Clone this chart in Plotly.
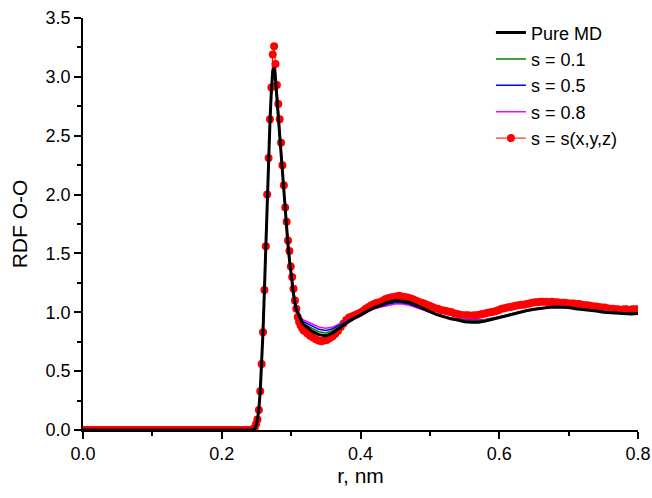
import numpy as np
import plotly.graph_objects as go

# r grids in nm: 0.002 bins across the first peak, coarser after it
r_peak = np.round(0.2435 + 0.002 * np.arange(39), 4)
r_tail = np.round(0.33 + 0.01 * np.arange(48), 2)
r_tail_sxyz = np.round(0.3235 + 0.004 * np.arange(120), 4)

# g(r) on r_peak
pure_md_peak = [0.00, 0.00, 0.01, 0.04, 0.09, 0.18, 0.33, 0.56, 0.84, 1.19,
                1.56, 1.97, 2.31, 2.62, 2.88, 3.05, 3.08, 2.98, 2.82, 2.66,
                2.50, 2.33, 2.16, 2.00, 1.84, 1.70, 1.57, 1.45, 1.34, 1.24,
                1.15, 1.08, 1.02, 1.00, 0.97, 0.94, 0.92, 0.90, 0.89]
s01_peak = [0.00, 0.00, 0.01, 0.04, 0.09, 0.18, 0.33, 0.56, 0.84, 1.19,
            1.56, 1.97, 2.31, 2.62, 2.87, 3.03, 3.06, 2.97, 2.82, 2.66,
            2.50, 2.33, 2.16, 2.00, 1.84, 1.70, 1.57, 1.45, 1.34, 1.24,
            1.15, 1.08, 1.02, 0.98, 0.95, 0.93, 0.915, 0.905, 0.90]
s05_peak = [0.00, 0.00, 0.01, 0.04, 0.09, 0.18, 0.33, 0.56, 0.84, 1.19,
            1.56, 1.97, 2.31, 2.62, 2.86, 3.01, 3.04, 2.96, 2.82, 2.66,
            2.50, 2.33, 2.16, 2.00, 1.84, 1.70, 1.57, 1.45, 1.34, 1.24,
            1.15, 1.09, 1.03, 0.99, 0.96, 0.94, 0.93, 0.92, 0.915]
s08_peak = [0.00, 0.00, 0.01, 0.04, 0.09, 0.18, 0.33, 0.56, 0.84, 1.19,
            1.56, 1.97, 2.31, 2.62, 2.85, 2.99, 3.02, 2.95, 2.82, 2.66,
            2.50, 2.33, 2.16, 2.00, 1.84, 1.70, 1.57, 1.45, 1.34, 1.24,
            1.16, 1.10, 1.04, 1.00, 0.97, 0.955, 0.945, 0.935, 0.93]
sxyz_peak = [0.00, 0.01, 0.02, 0.05, 0.09, 0.17, 0.33, 0.56, 0.83, 1.19,
             1.56, 2.00, 2.31, 2.64, 2.91, 3.19, 3.26, 3.11, 2.93, 2.77,
             2.64, 2.44, 2.25, 2.08, 1.89, 1.77, 1.61, 1.52, 1.39, 1.30,
             1.20, 1.10, 1.03, 0.96, 0.92, 0.89, 0.87, 0.85, 0.84]

# g(r) on r_tail
pure_md_tail = [0.84, 0.81, 0.80, 0.825, 0.87, 0.91, 0.945, 0.98, 1.01, 1.04,
                1.065, 1.085, 1.10, 1.095, 1.085, 1.06, 1.03, 1.005, 0.98, 0.96,
                0.945, 0.935, 0.92, 0.915, 0.915, 0.925, 0.94, 0.955, 0.97, 0.99,
                1.00, 1.015, 1.025, 1.035, 1.04, 1.045, 1.045, 1.04, 1.03, 1.025,
                1.015, 1.01, 1.00, 0.995, 0.99, 0.99, 0.985, 0.99]
s01_tail = [0.865, 0.835, 0.825, 0.845, 0.885, 0.92, 0.955, 0.985, 1.015, 1.04,
            1.06, 1.08, 1.09, 1.09, 1.08, 1.06, 1.03, 1.005, 0.985, 0.965,
            0.95, 0.94, 0.93, 0.925, 0.925, 0.935, 0.945, 0.96, 0.975, 0.99,
            1.005, 1.02, 1.03, 1.035, 1.045, 1.05, 1.05, 1.045, 1.035, 1.03,
            1.02, 1.015, 1.005, 1.00, 0.995, 0.995, 0.99, 0.995]
s05_tail = [0.885, 0.855, 0.845, 0.86, 0.895, 0.925, 0.955, 0.985, 1.01, 1.035,
            1.055, 1.07, 1.08, 1.08, 1.07, 1.05, 1.025, 1.00, 0.98, 0.965,
            0.95, 0.94, 0.935, 0.93, 0.93, 0.935, 0.945, 0.96, 0.975, 0.99,
            1.00, 1.015, 1.025, 1.035, 1.04, 1.045, 1.045, 1.04, 1.035, 1.025,
            1.02, 1.01, 1.005, 1.00, 0.995, 0.99, 0.99, 0.995]
s08_tail = [0.905, 0.875, 0.865, 0.875, 0.90, 0.93, 0.955, 0.98, 1.005, 1.03,
            1.045, 1.06, 1.07, 1.07, 1.06, 1.04, 1.02, 0.995, 0.98, 0.965,
            0.95, 0.945, 0.94, 0.935, 0.935, 0.94, 0.95, 0.96, 0.975, 0.99,
            1.00, 1.015, 1.025, 1.035, 1.045, 1.05, 1.05, 1.045, 1.04, 1.03,
            1.02, 1.015, 1.005, 1.00, 0.995, 0.995, 0.99, 0.995]

# s = s(x,y,z) on r_tail_sxyz
sxyz_tail = [0.82, 0.80, 0.785, 0.77, 0.76, 0.755, 0.76, 0.765, 0.78, 0.795,
             0.815, 0.84, 0.875, 0.905, 0.935, 0.955, 0.965, 0.975, 0.985, 0.995,
             1.01, 1.03, 1.045, 1.06, 1.07, 1.08, 1.085, 1.095, 1.11, 1.12,
             1.125, 1.13, 1.135, 1.14, 1.135, 1.13, 1.125, 1.12, 1.11, 1.10,
             1.09, 1.08, 1.075, 1.065, 1.055, 1.045, 1.035, 1.03, 1.02, 1.015,
             1.01, 1.005, 1.00, 0.99, 0.985, 0.98, 0.975, 0.975, 0.975, 0.97,
             0.975, 0.975, 0.98, 0.985, 0.99, 0.995, 1.00, 1.005, 1.01, 1.02,
             1.03, 1.035, 1.04, 1.045, 1.05, 1.055, 1.06, 1.065, 1.065, 1.07,
             1.075, 1.08, 1.085, 1.085, 1.09, 1.09, 1.09, 1.085, 1.09, 1.085,
             1.085, 1.08, 1.08, 1.08, 1.075, 1.075, 1.075, 1.07, 1.07, 1.065,
             1.06, 1.06, 1.055, 1.05, 1.05, 1.045, 1.04, 1.04, 1.035, 1.03,
             1.03, 1.025, 1.025, 1.02, 1.025, 1.025, 1.02, 1.025, 1.025, 1.025]

FONT = "Liberation Sans, Arial, sans-serif"


def curve(peak, tail, r_after=r_tail):
    # every curve sits at zero from r = 0 up to the first bin
    x = np.concatenate([[0.0], r_peak, r_after])
    y = np.concatenate([[0.0], peak, tail])
    return x, y


fig = go.Figure()

# s(x,y,z) zero stretch: markers there merge into a band half hidden by the axis
fig.add_trace(go.Scatter(x=[0.0, r_peak[0]], y=[0.0, 0.0], mode="lines",
                         line=dict(color="#ff0000", width=8), showlegend=False,
                         hoverinfo="skip"))
x, y = curve(sxyz_peak, sxyz_tail, r_tail_sxyz)
fig.add_trace(go.Scatter(x=x[1:], y=y[1:], mode="lines+markers", name="s = s(x,y,z)",
                         line=dict(color="#ff0000", width=1),
                         marker=dict(color="#ff0000", size=8)))
x, y = curve(s08_peak, s08_tail)
fig.add_trace(go.Scatter(x=x, y=y, mode="lines", name="s = 0.8",
                         line=dict(color="#ff00ff", width=1.5)))
x, y = curve(s05_peak, s05_tail)
fig.add_trace(go.Scatter(x=x, y=y, mode="lines", name="s = 0.5",
                         line=dict(color="#0000ff", width=1.5)))
x, y = curve(s01_peak, s01_tail)
fig.add_trace(go.Scatter(x=x, y=y, mode="lines", name="s = 0.1",
                         line=dict(color="#008000", width=1.5)))
x, y = curve(pure_md_peak, pure_md_tail)
fig.add_trace(go.Scatter(x=x, y=y, mode="lines", name="Pure MD",
                         line=dict(color="#000000", width=3)))

axis_style = dict(showline=True, linecolor="black", linewidth=1.5, mirror=False,
                  showgrid=False, zeroline=False, ticks="outside", ticklen=7,
                  tickwidth=1.5, tickcolor="black", ticklabeloverflow="allow",
                  automargin=False,
                  tickfont=dict(family=FONT, size=18, color="black"))

fig.update_xaxes(range=[0, 0.8], dtick=0.2, tickformat=".1f",
                 minor=dict(dtick=0.1, ticks="outside", ticklen=4, tickcolor="black", tickwidth=1.5),
                 title=dict(text="r, nm", standoff=5,
                            font=dict(family=FONT, size=21, color="black")),
                 **axis_style)
fig.update_yaxes(range=[0, 3.5], dtick=0.5, tickformat=".1f",
                 minor=dict(dtick=0.25, ticks="outside", ticklen=4, tickcolor="black", tickwidth=1.5),
                 title=dict(text="RDF O-O", standoff=12,
                            font=dict(family=FONT, size=21, color="black")),
                 **axis_style)

fig.update_layout(
    width=652, height=498,
    margin=dict(l=83, r=14, t=18, b=68, autoexpand=False),
    plot_bgcolor="white", paper_bgcolor="white",
    font=dict(family=FONT, color="black"),
    legend=dict(x=0.735, y=1.009, xanchor="left", yanchor="top",
                traceorder="reversed", bgcolor="rgba(0,0,0,0)",
                font=dict(family=FONT, size=18, color="black")),
)

# the page body has a default 8px margin; drop it so the figure fills the window
fig.write_html("out.html", config={"displayModeBar": False},
               post_script="document.body.style.margin = '0';")
